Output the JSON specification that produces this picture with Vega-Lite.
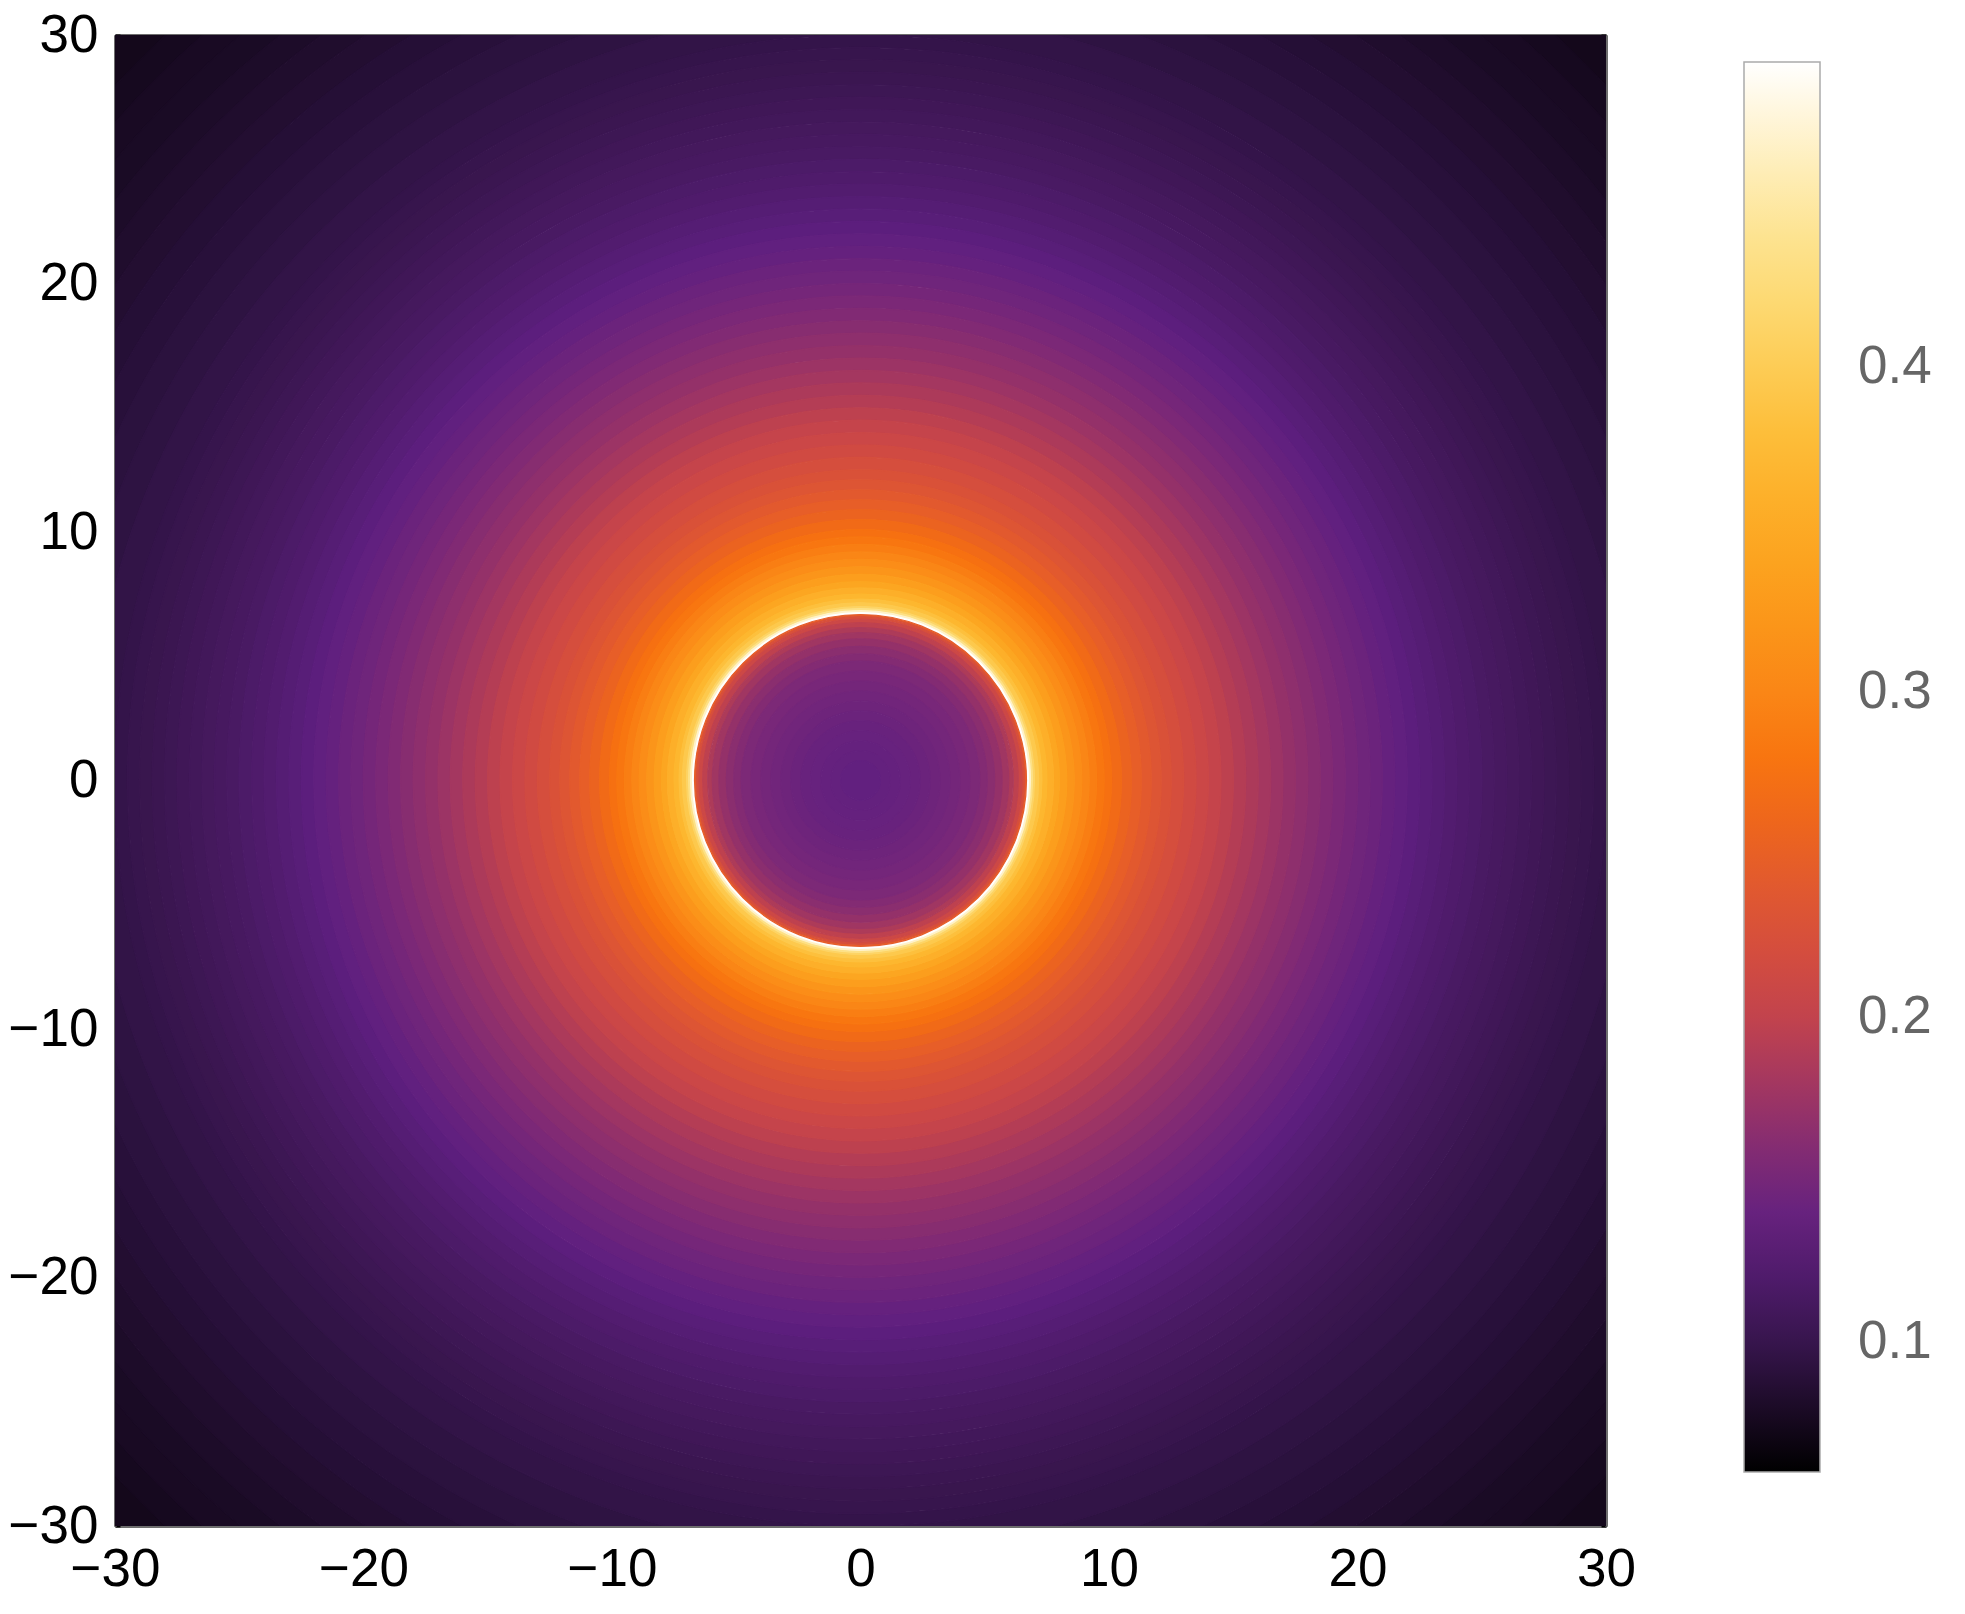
{
  "$schema": "https://vega.github.io/schema/vega-lite/v6.json",
  "autosize": {"type": "none"},
  "width": 1491,
  "height": 1491,
  "padding": {"left": 115, "top": 35, "right": 359, "bottom": 88},
  "background": "white",
  "config": {"view": {"stroke": null}},
  "datasets": {
    "rings": [
      {"r0": 41, "r": 42.5, "v": 0.074}, {"r0": 40, "r": 41, "v": 0.076}, {"r0": 39, "r": 40, "v": 0.078}, {"r0": 38, "r": 39, "v": 0.079},
      {"r0": 37, "r": 38, "v": 0.081}, {"r0": 36, "r": 37, "v": 0.083}, {"r0": 35, "r": 36, "v": 0.085}, {"r0": 34, "r": 35, "v": 0.087},
      {"r0": 33, "r": 34, "v": 0.089}, {"r0": 32, "r": 33, "v": 0.091}, {"r0": 31, "r": 32, "v": 0.093}, {"r0": 30, "r": 31, "v": 0.096},
      {"r0": 29.5, "r": 30, "v": 0.098}, {"r0": 29, "r": 29.5, "v": 0.100}, {"r0": 28.5, "r": 29, "v": 0.101}, {"r0": 28, "r": 28.5, "v": 0.103},
      {"r0": 27.5, "r": 28, "v": 0.105}, {"r0": 27, "r": 27.5, "v": 0.107}, {"r0": 26.5, "r": 27, "v": 0.109}, {"r0": 26, "r": 26.5, "v": 0.111},
      {"r0": 25.5, "r": 26, "v": 0.113}, {"r0": 25, "r": 25.5, "v": 0.115}, {"r0": 24.5, "r": 25, "v": 0.118}, {"r0": 24, "r": 24.5, "v": 0.120},
      {"r0": 23.5, "r": 24, "v": 0.123}, {"r0": 23, "r": 23.5, "v": 0.126}, {"r0": 22.5, "r": 23, "v": 0.129}, {"r0": 22, "r": 22.5, "v": 0.132},
      {"r0": 21.5, "r": 22, "v": 0.136}, {"r0": 21, "r": 21.5, "v": 0.139}, {"r0": 20.5, "r": 21, "v": 0.143}, {"r0": 20, "r": 20.5, "v": 0.146},
      {"r0": 19.5, "r": 20, "v": 0.150}, {"r0": 19, "r": 19.5, "v": 0.154}, {"r0": 18.5, "r": 19, "v": 0.158}, {"r0": 18, "r": 18.5, "v": 0.162},
      {"r0": 17.5, "r": 18, "v": 0.166}, {"r0": 17, "r": 17.5, "v": 0.170}, {"r0": 16.5, "r": 17, "v": 0.175}, {"r0": 16, "r": 16.5, "v": 0.180},
      {"r0": 15.5, "r": 16, "v": 0.185}, {"r0": 15, "r": 15.5, "v": 0.190}, {"r0": 14.5, "r": 15, "v": 0.196}, {"r0": 14, "r": 14.5, "v": 0.202},
      {"r0": 13.5, "r": 14, "v": 0.208}, {"r0": 13, "r": 13.5, "v": 0.215}, {"r0": 12.5, "r": 13, "v": 0.222}, {"r0": 12.1, "r": 12.5, "v": 0.228},
      {"r0": 11.7, "r": 12.1, "v": 0.234}, {"r0": 11.3, "r": 11.7, "v": 0.241}, {"r0": 10.9, "r": 11.3, "v": 0.248}, {"r0": 10.5, "r": 10.9, "v": 0.256},
      {"r0": 10.1, "r": 10.5, "v": 0.265}, {"r0": 9.8, "r": 10.1, "v": 0.273}, {"r0": 9.5, "r": 9.8, "v": 0.281}, {"r0": 9.2, "r": 9.5, "v": 0.290},
      {"r0": 8.9, "r": 9.2, "v": 0.300}, {"r0": 8.6, "r": 8.9, "v": 0.310}, {"r0": 8.3, "r": 8.6, "v": 0.321}, {"r0": 8.0, "r": 8.3, "v": 0.333},
      {"r0": 7.75, "r": 8.0, "v": 0.345}, {"r0": 7.5, "r": 7.75, "v": 0.358}, {"r0": 7.3, "r": 7.5, "v": 0.370}, {"r0": 7.15, "r": 7.3, "v": 0.382},
      {"r0": 7.0, "r": 7.15, "v": 0.395}, {"r0": 6.92, "r": 7.0, "v": 0.410}, {"r0": 6.84, "r": 6.92, "v": 0.435}, {"r0": 6.76, "r": 6.84, "v": 0.470},
      {"r0": 6.68, "r": 6.76, "v": 0.494}, {"r0": 6.6, "r": 6.68, "v": 0.245}, {"r0": 6.5, "r": 6.6, "v": 0.225}, {"r0": 6.35, "r": 6.5, "v": 0.210},
      {"r0": 6.15, "r": 6.35, "v": 0.197}, {"r0": 5.95, "r": 6.15, "v": 0.186}, {"r0": 5.7, "r": 5.95, "v": 0.178}, {"r0": 5.4, "r": 5.7, "v": 0.170},
      {"r0": 5.1, "r": 5.4, "v": 0.164}, {"r0": 4.8, "r": 5.1, "v": 0.159}, {"r0": 4.4, "r": 4.8, "v": 0.155}, {"r0": 4.0, "r": 4.4, "v": 0.152},
      {"r0": 3.6, "r": 4.0, "v": 0.149}, {"r0": 3.2, "r": 3.6, "v": 0.147}, {"r0": 2.8, "r": 3.2, "v": 0.145}, {"r0": 2.4, "r": 2.8, "v": 0.143},
      {"r0": 2.0, "r": 2.4, "v": 0.141}, {"r0": 1.6, "r": 2.0, "v": 0.140}, {"r0": 1.2, "r": 1.6, "v": 0.139}, {"r0": 0.8, "r": 1.2, "v": 0.138},
      {"r0": 0, "r": 0.8, "v": 0.137}
    ],
    "frame": [{"x": -30, "y": -30}, {"x": 30, "y": 30}]
  },
  "resolve": {"scale": {"x": "independent", "y": "independent"}, "axis": {"x": "independent", "y": "independent"}},
  "layer": [
    {
      "data": {"name": "rings"},
      "mark": {"type": "arc", "theta": 0, "theta2": 6.2832, "clip": true, "strokeWidth": 1.2,
        "stroke": {"expr": "scale('color', datum.v)"}},
      "encoding": {
        "radius": {"field": "r", "type": "quantitative",
          "scale": {"type": "linear", "domain": [0, 30], "zero": true, "nice": false}},
        "radius2": {"field": "r0"},
        "color": {"field": "v", "type": "quantitative",
          "scale": {"type": "linear", "interpolate": "rgb",
            "domain": [0.06, 0.0713, 0.0817, 0.0917, 0.1021, 0.1122, 0.134, 0.1534, 0.174, 0.1945, 0.2045, 0.226, 0.247, 0.267, 0.277, 0.298, 0.319, 0.339, 0.371, 0.391, 0.412, 0.432, 0.453, 0.473, 0.494],
            "range": ["#000000", "#100716", "#1e0c2a", "#2c1240", "#3a1650", "#46195f", "#5e1f80", "#7a2878", "#9a3366", "#bb4050", "#c8454a", "#d8503a", "#e65d29", "#f26b15", "#f8730f", "#fa8416", "#fb9419", "#fca21e", "#fdb830", "#fdc647", "#fdd568", "#fddf82", "#feeaa8", "#fff3d0", "#ffffff"]},
          "legend": {"orient": "none", "legendX": 1629, "legendY": 27, "direction": "vertical",
            "gradientLength": 1410, "gradientThickness": 76, "title": null, "format": ".1f",
            "values": [0.1, 0.2, 0.3, 0.4], "labelFontSize": 53, "labelFont": "Liberation Sans",
            "labelColor": "#666666", "labelOffset": 38, "gradientStrokeColor": "#aaaaaa", "gradientStrokeWidth": 1.5}}
      }
    },
    {
      "data": {"name": "frame"},
      "mark": {"type": "point", "opacity": 0},
      "encoding": {
        "x": {"field": "x", "type": "quantitative", "scale": {"domain": [-30, 30], "nice": false, "zero": false},
          "axis": {"orient": "bottom", "title": null, "grid": false,
            "values": [-30, -28, -26, -24, -22, -20, -18, -16, -14, -12, -10, -8, -6, -4, -2, 0, 2, 4, 6, 8, 10, 12, 14, 16, 18, 20, 22, 24, 26, 28, 30],
            "labelExpr": "abs(datum.value) % 10 == 0 ? datum.label : ''",
            "labelFlush": false, "labelOverlap": false, "labelFont": "Liberation Sans", "labelFontSize": 53,
            "labelColor": "#000000", "labelPadding": 22, "tickSize": -5, "tickWidth": 2, "tickColor": "#000000",
            "domainColor": "#6e6e6e", "domainWidth": 3}},
        "y": {"field": "y", "type": "quantitative", "scale": {"domain": [-30, 30], "nice": false, "zero": false},
          "axis": {"orient": "left", "title": null, "grid": false,
            "values": [-30, -28, -26, -24, -22, -20, -18, -16, -14, -12, -10, -8, -6, -4, -2, 0, 2, 4, 6, 8, 10, 12, 14, 16, 18, 20, 22, 24, 26, 28, 30],
            "labelExpr": "abs(datum.value) % 10 == 0 ? datum.label : ''",
            "labelFlush": false, "labelOverlap": false, "labelFont": "Liberation Sans", "labelFontSize": 53,
            "labelColor": "#000000", "labelPadding": 22, "tickSize": -5, "tickWidth": 2, "tickColor": "#000000",
            "domainColor": "#6e6e6e", "domainWidth": 3}}
      }
    },
    {
      "data": {"name": "frame"},
      "mark": {"type": "point", "opacity": 0},
      "encoding": {
        "x": {"field": "x", "type": "quantitative", "scale": {"domain": [-30, 30], "nice": false, "zero": false},
          "axis": {"orient": "top", "title": null, "grid": false, "labels": false,
            "values": [-30, -28, -26, -24, -22, -20, -18, -16, -14, -12, -10, -8, -6, -4, -2, 0, 2, 4, 6, 8, 10, 12, 14, 16, 18, 20, 22, 24, 26, 28, 30],
            "tickSize": -5, "tickWidth": 2, "tickColor": "#000000", "domainColor": "#6e6e6e", "domainWidth": 3}},
        "y": {"field": "y", "type": "quantitative", "scale": {"domain": [-30, 30], "nice": false, "zero": false},
          "axis": {"orient": "right", "title": null, "grid": false, "labels": false,
            "values": [-30, -28, -26, -24, -22, -20, -18, -16, -14, -12, -10, -8, -6, -4, -2, 0, 2, 4, 6, 8, 10, 12, 14, 16, 18, 20, 22, 24, 26, 28, 30],
            "tickSize": -5, "tickWidth": 2, "tickColor": "#000000", "domainColor": "#6e6e6e", "domainWidth": 3}}
      }
    }
  ]
}
